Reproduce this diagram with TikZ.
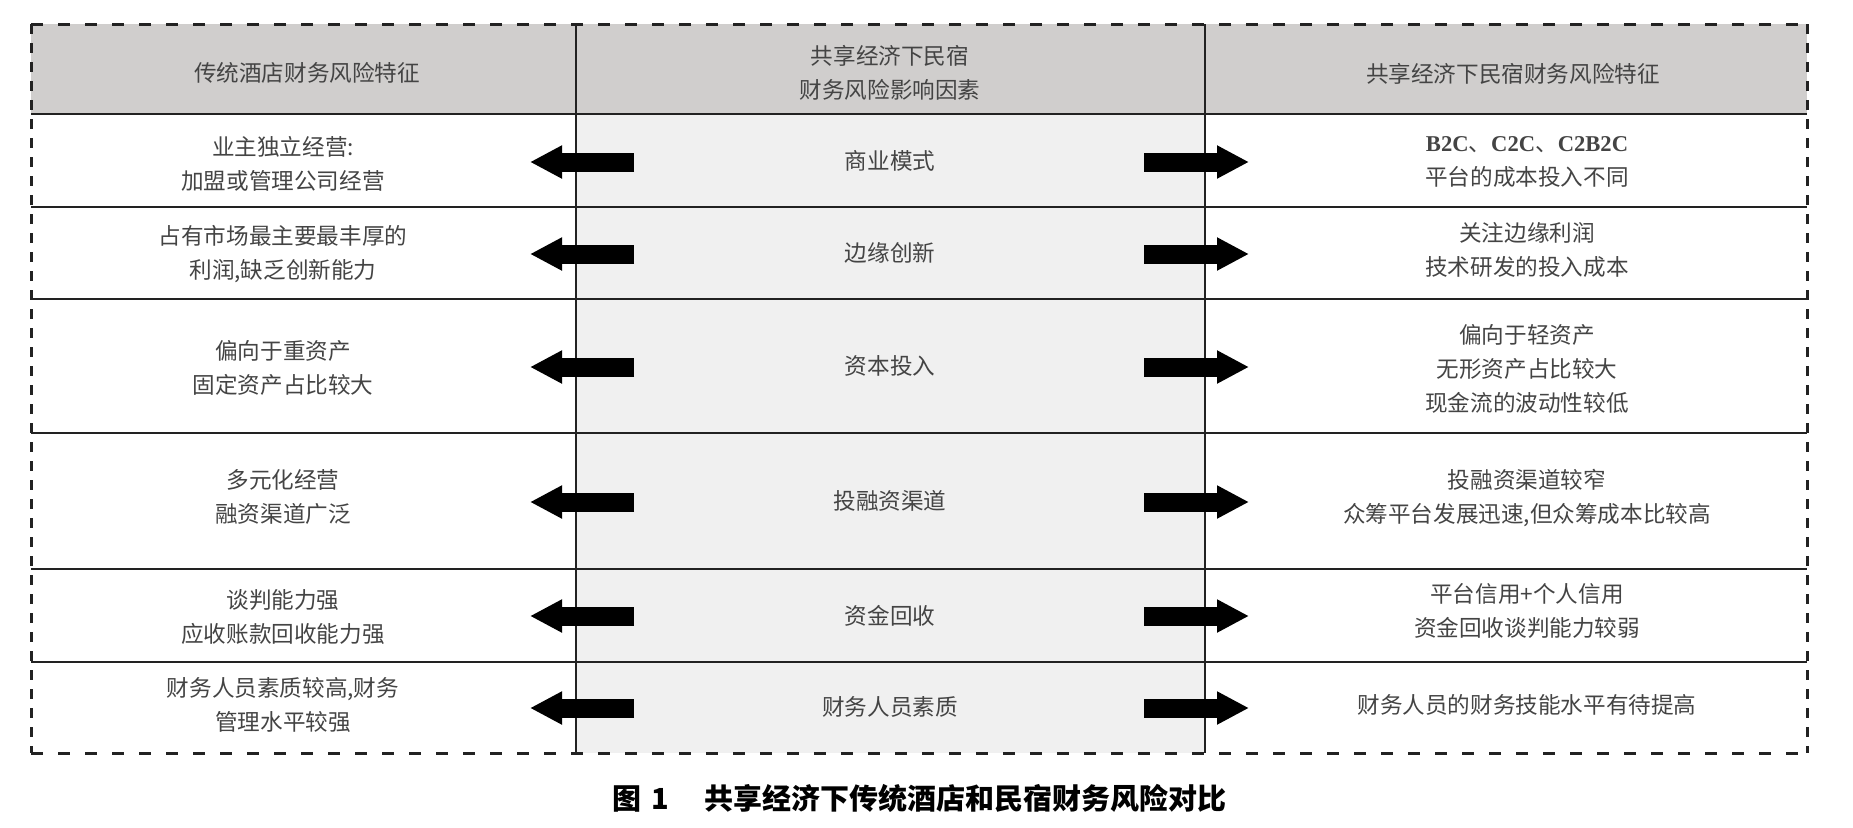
\documentclass[tikz,border=0pt]{standalone}
\usepackage{fontspec}
\setmainfont{Noto Sans CJK SC}
\newfontfamily\latinserif{Liberation Serif}
\usepackage{tikz}
\usetikzlibrary{arrows.meta}
\definecolor{headgray}{HTML}{D0CECD}
\definecolor{midgray}{HTML}{F0F0F0}
\definecolor{inkgray}{HTML}{444444}
\definecolor{rulegray}{HTML}{222222}
\tikzset{
	px/.style={x=0.5pt,y=-0.5pt},
	cell/.style={align=center,text=inkgray,inner sep=0pt,
    font=\fontsize{11.3pt}{17pt}\selectfont},
	rowrule/.style={draw=rulegray,line width=1pt},
	colrule/.style={draw=rulegray,line width=1.2pt},
	hdash/.style={draw=rulegray,line width=1.5pt,dash pattern=on 6pt off 7.5pt},
	vdash/.style={draw=rulegray,line width=1.5pt,dash pattern=on 5pt off 4.5pt},
	blockarrow/.style={black,line width=9.5pt,
    -{Triangle[length=16pt,width=15.5pt]}}
		}
\def\lx{283}% centre of the left column texts
\def\mx{890}% centre of the middle column
\def\rx{1527}% centre of the right column texts

\begin{document}
\begin{tikzpicture}[px]
  \useasboundingbox (0,0) rectangle (1853,827);

  % backgrounds
  \fill[headgray] (31,24) rectangle (1807,114);
  \fill[midgray] (576,114) rectangle (1205,753);

  % rules of the table
  \foreach \y in {114,207,299,433,569,662}
    \draw[rowrule] (31,\y) -- (1807,\y);
  \draw[colrule] (576,24) -- (576,753);
  \draw[colrule] (1205,24) -- (1205,753);

  % dashed frame
  \draw[hdash] (31,24) -- (1807,24) (31,753) -- (1807,753);
  \draw[vdash] (31,24) -- (31,753) (1807,24) -- (1807,753);

  % head row
  \node[cell] (hL) at (307,73) {传统酒店财务风险特征};
  \node[cell] (hM) at (\mx,73) {共享经济下民宿\\财务风险影响因素};
  \node[cell] (hR) at (1513,74) {共享经济下民宿财务风险特征};

  % factors
  \node[cell] (m1) at (\mx,161) {商业模式};
  \node[cell] (m2) at (\mx,253) {边缘创新};
  \node[cell] (m3) at (\mx,366) {资本投入};
  \node[cell] (m4) at (\mx,501) {投融资渠道};
  \node[cell] (m5) at (\mx,616) {资金回收};
  \node[cell] (m6) at (\mx,707) {财务人员素质};

  % traditional hotels
  \node[cell] (l1) at (\lx,164) {业主独立经营:\\加盟或管理公司经营};
  \node[cell] (l2) at (\lx,254) {占有市场最主要最丰厚的\\利润,缺乏创新能力};
  \node[cell] (l3) at (\lx,368) {偏向于重资产\\固定资产占比较大};
  \node[cell] (l4) at (\lx,497) {多元化经营\\融资渠道广泛};
  \node[cell] (l5) at (\lx,617) {谈判能力强\\应收账款回收能力强};
  \node[cell] (l6) at (\lx,705) {财务人员素质较高,财务\\管理水平较强};

  % homestays
  \node[cell] (r1) at (\rx,162) {{\latinserif\bfseries B2C}、{\latinserif\bfseries C2C}、{\latinserif\bfseries C2B2C}\\平台的成本投入不同};
  \node[cell] (r2) at (\rx,250) {关注边缘利润\\技术研发的投入成本};
  \node[cell] (r3) at (\rx,369) {偏向于轻资产\\无形资产占比较大\\现金流的波动性较低};
  \node[cell] (r4) at (\rx,498) {投融资渠道较窄\\众筹平台发展迅速,但众筹成本比较高};
  \node[cell] (r5) at (\rx,611) {平台信用+个人信用\\资金回收谈判能力较弱};
  \node[cell] (r6) at (\rx,705) {财务人员的财务技能水平有待提高};

  % arrows out of the middle column
  \foreach \i/\y in {1/162,2/254,3/367,4/502,5/616,6/708}{
    \coordinate (sl\i) at (634,\y);
    \coordinate (el\i) at (530,\y);
    \coordinate (sr\i) at (1144,\y);
    \coordinate (er\i) at (1249,\y);
    \draw[blockarrow] (sl\i) -- (el\i);
    \draw[blockarrow] (sr\i) -- (er\i);
  }

  % caption
  \node[anchor=west,inner sep=0pt,font=\fontsize{14.5pt}{14.5pt}\selectfont\bfseries]
    (cap) at (612,798) {图\hspace{0.35em}1\hspace{1.2em}共享经济下传统酒店和民宿财务风险对比};
\end{tikzpicture}
\end{document}
